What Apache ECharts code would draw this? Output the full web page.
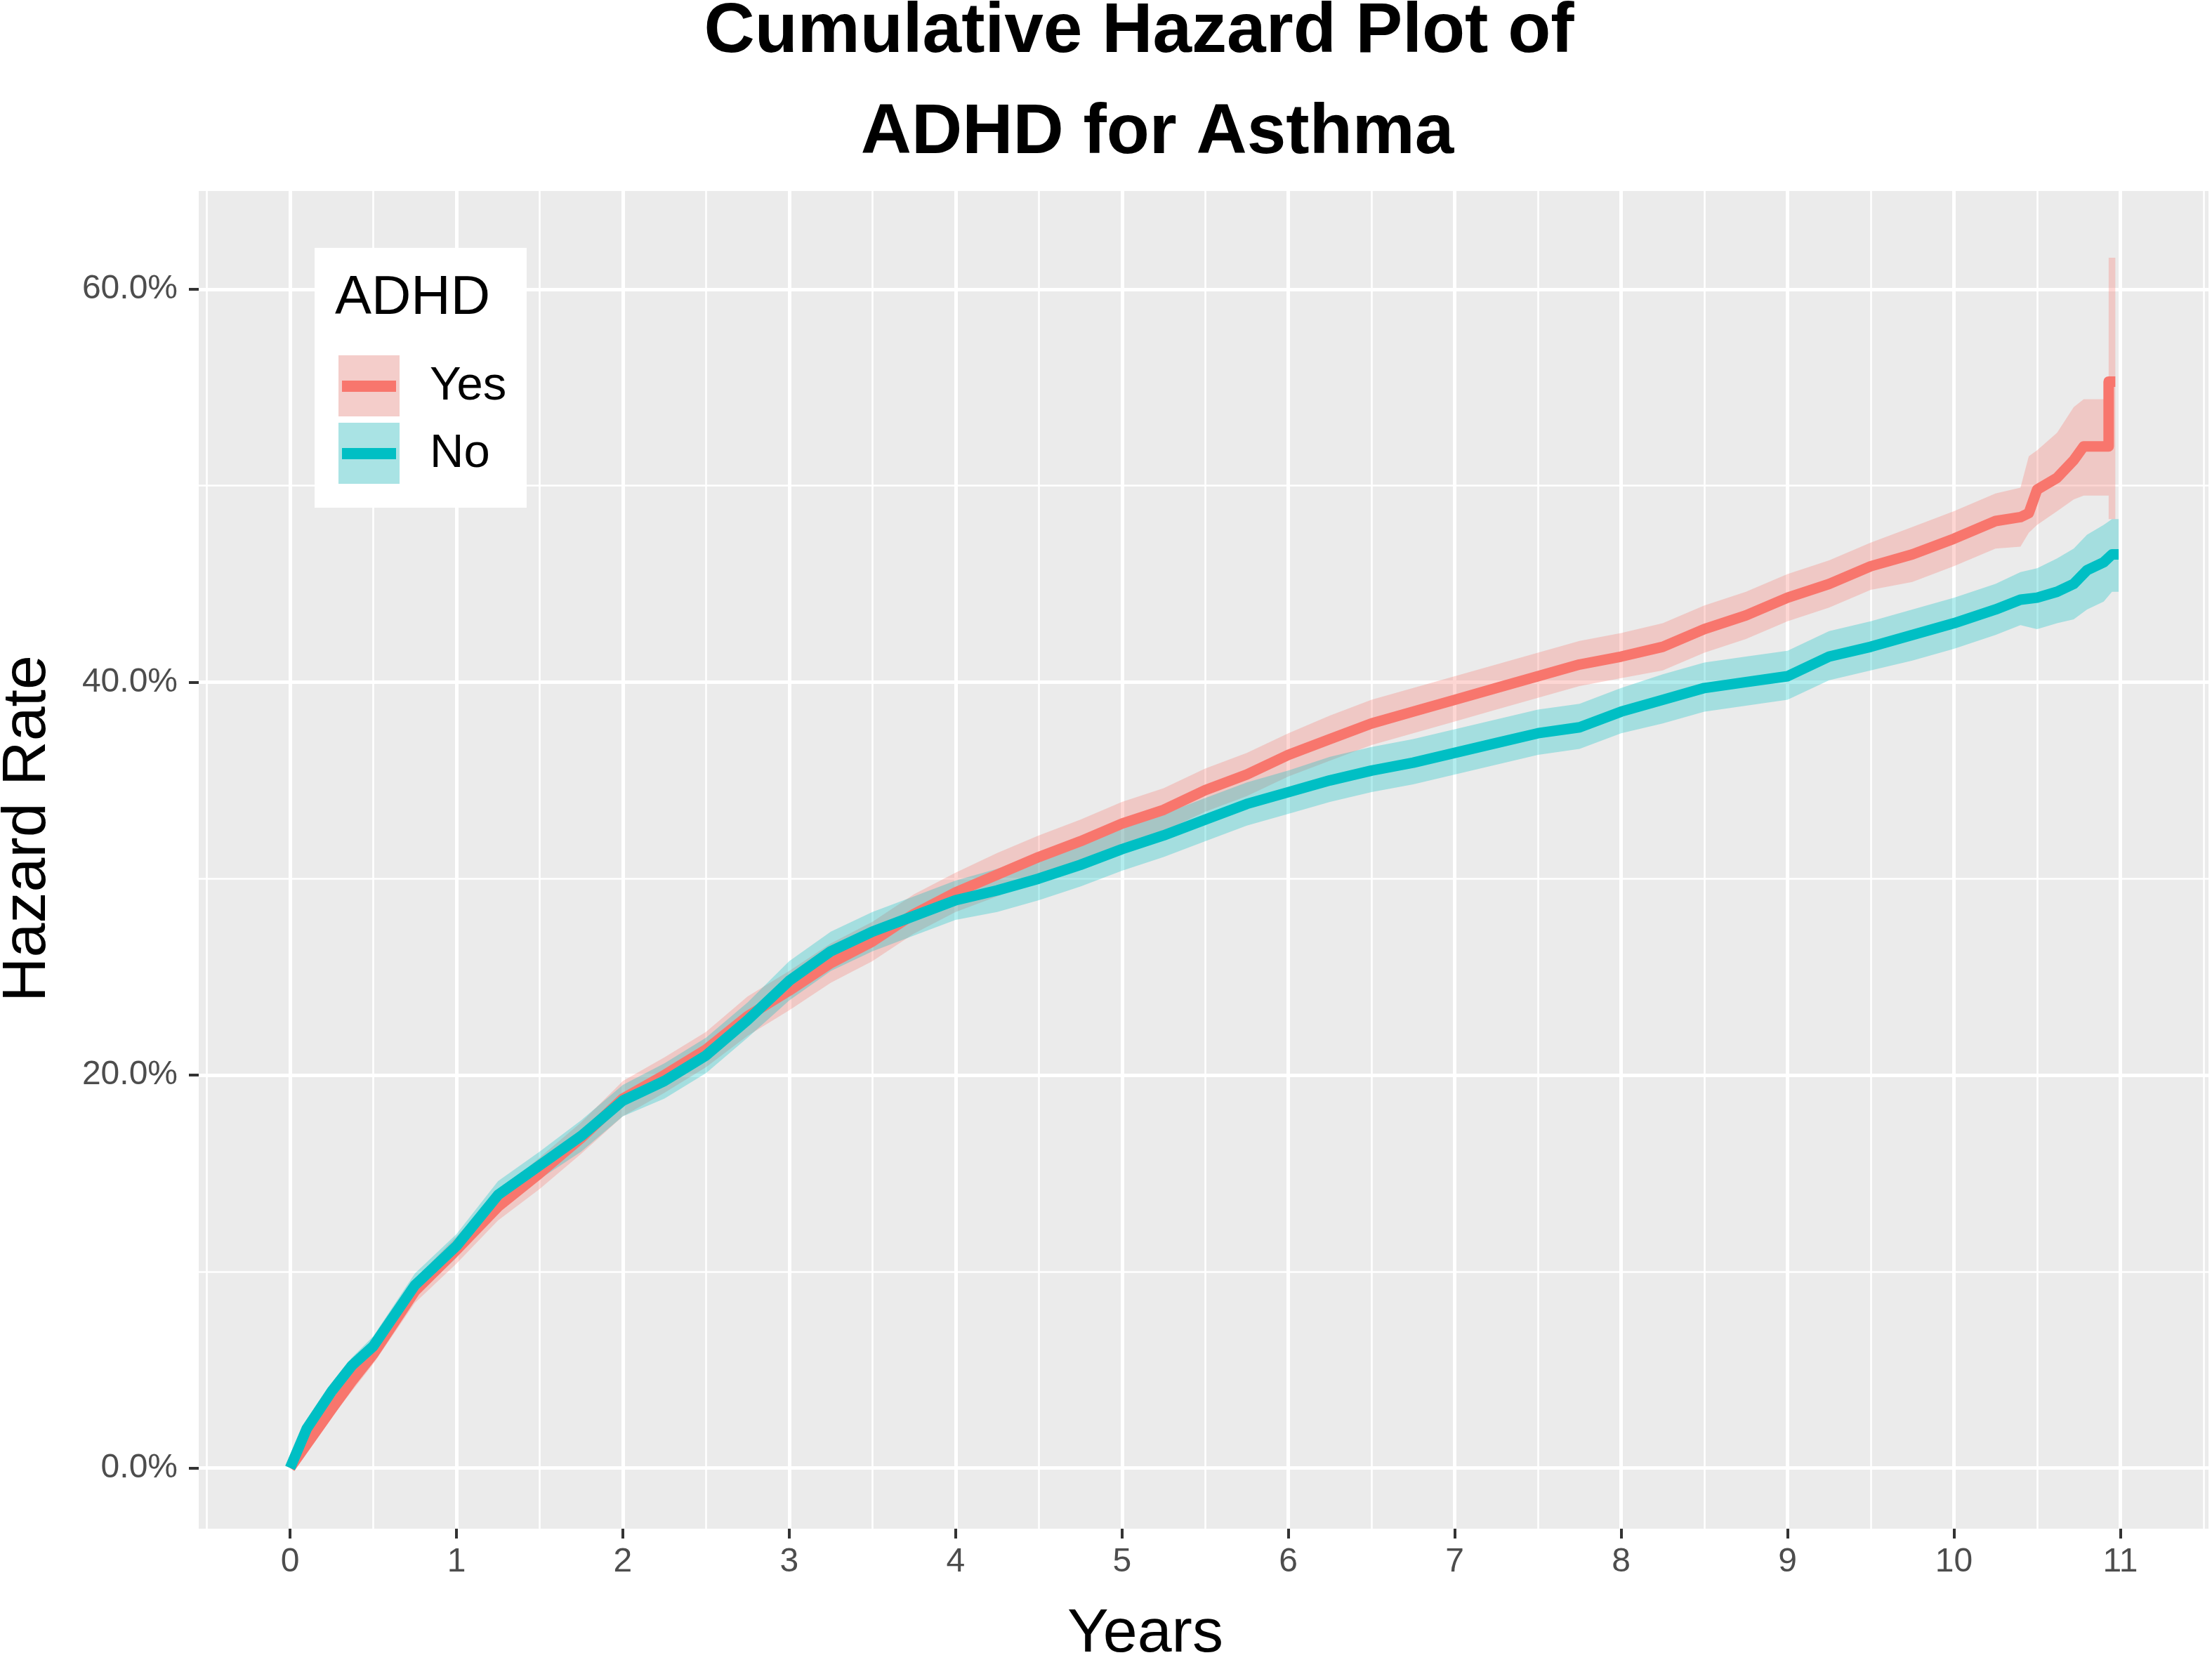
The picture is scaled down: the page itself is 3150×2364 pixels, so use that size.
<!DOCTYPE html>
<html>
<head>
<meta charset="utf-8">
<title>Cumulative Hazard Plot of ADHD for Asthma</title>
<script src="https://cdn.jsdelivr.net/npm/echarts@6.0.0/dist/echarts.min.js"></script>
<style>
  html, body { margin: 0; padding: 0; background: #fff; }
  #chart { width: 3150px; height: 2364px; }
</style>
</head>
<body>
<div id="chart"></div>
<script>
// ADHD = Yes  (years, cumulative hazard %, lower / upper band %)
const yesYears  = [0, 0.1, 0.25, 0.37, 0.5, 0.75, 1.0, 1.25, 1.5, 1.75, 2.0, 2.25, 2.5, 2.75, 3.0, 3.25, 3.5, 3.75, 4.0, 4.25, 4.5, 4.75, 5.0, 5.25, 5.5, 5.75, 6.0, 6.25, 6.5, 6.75, 7.0, 7.25, 7.5, 7.75, 8.0, 8.25, 8.5, 8.75, 9.0, 9.25, 9.5, 9.75, 10.0, 10.25, 10.4, 10.45, 10.5, 10.62, 10.72, 10.78, 10.93, 10.93, 10.97]
const yesHazard = [0, 1.2, 3.0, 4.4, 5.8, 9.0, 11.1, 13.3, 15.0, 16.8, 18.8, 20.0, 21.3, 23.0, 24.3, 25.7, 26.8, 28.2, 29.3, 30.2, 31.1, 31.9, 32.8, 33.5, 34.5, 35.3, 36.3, 37.1, 37.9, 38.5, 39.1, 39.7, 40.3, 40.9, 41.3, 41.8, 42.7, 43.4, 44.3, 45.0, 45.9, 46.5, 47.3, 48.2, 48.4, 48.6, 49.8, 50.4, 51.3, 52.0, 52.0, 55.3, 55.3]
const yesLower  = [0, 0.9, 2.6, 3.9, 5.3, 8.4, 10.4, 12.6, 14.2, 16.0, 17.9, 19.1, 20.4, 22.0, 23.3, 24.7, 25.8, 27.2, 28.3, 29.1, 30.0, 30.8, 31.7, 32.4, 33.4, 34.2, 35.2, 36.0, 36.8, 37.4, 38.0, 38.6, 39.2, 39.8, 40.2, 40.6, 41.5, 42.2, 43.1, 43.8, 44.7, 45.1, 45.9, 46.8, 46.9, 47.6, 48.0, 48.7, 49.3, 49.5, 49.5, 48.3, 48.3]
const yesUpper  = [0, 1.5, 3.4, 4.9, 6.3, 9.6, 11.8, 14.0, 15.8, 17.6, 19.7, 20.9, 22.2, 24.0, 25.3, 26.7, 27.8, 29.2, 30.3, 31.3, 32.2, 33.0, 33.9, 34.6, 35.6, 36.4, 37.4, 38.3, 39.1, 39.7, 40.3, 40.9, 41.5, 42.1, 42.5, 43.0, 43.9, 44.6, 45.5, 46.2, 47.1, 47.9, 48.7, 49.6, 49.9, 51.5, 51.8, 52.7, 54.0, 54.4, 54.4, 61.6, 61.6]

// ADHD = No
const noYears  = [0, 0.1, 0.25, 0.37, 0.5, 0.75, 1.0, 1.25, 1.5, 1.75, 2.0, 2.25, 2.5, 2.75, 3.0, 3.25, 3.5, 3.75, 4.0, 4.25, 4.5, 4.75, 5.0, 5.25, 5.5, 5.75, 6.0, 6.25, 6.5, 6.75, 7.0, 7.25, 7.5, 7.75, 8.0, 8.25, 8.5, 8.75, 9.0, 9.25, 9.5, 9.75, 10.0, 10.25, 10.4, 10.5, 10.62, 10.72, 10.8, 10.9, 10.95, 10.99]
const noHazard = [0, 2.0, 3.9, 5.2, 6.2, 9.3, 11.3, 13.9, 15.4, 16.9, 18.7, 19.7, 21.0, 22.8, 24.8, 26.3, 27.3, 28.1, 28.9, 29.4, 30.0, 30.7, 31.5, 32.2, 33.0, 33.8, 34.4, 35.0, 35.5, 35.9, 36.4, 36.9, 37.4, 37.7, 38.5, 39.1, 39.7, 40.0, 40.3, 41.3, 41.8, 42.4, 43.0, 43.7, 44.2, 44.3, 44.6, 45.0, 45.7, 46.1, 46.5, 46.5]
const noLower  = [0, 1.7, 3.5, 4.8, 5.7, 8.7, 10.7, 13.2, 14.7, 16.1, 17.9, 18.8, 20.1, 21.9, 23.8, 25.3, 26.3, 27.1, 27.9, 28.3, 28.9, 29.6, 30.4, 31.1, 31.9, 32.7, 33.3, 33.9, 34.4, 34.8, 35.3, 35.8, 36.3, 36.6, 37.4, 37.9, 38.5, 38.8, 39.1, 40.1, 40.6, 41.1, 41.7, 42.4, 42.9, 42.7, 43.0, 43.2, 43.7, 44.1, 44.6, 44.6]
const noUpper  = [0, 2.3, 4.3, 5.6, 6.7, 9.9, 11.9, 14.6, 16.1, 17.7, 19.5, 20.6, 21.9, 23.7, 25.8, 27.3, 28.3, 29.1, 29.9, 30.5, 31.1, 31.8, 32.6, 33.3, 34.1, 34.9, 35.5, 36.2, 36.7, 37.1, 37.6, 38.1, 38.6, 38.9, 39.7, 40.4, 41.0, 41.3, 41.6, 42.6, 43.1, 43.7, 44.3, 45.0, 45.6, 45.8, 46.3, 46.8, 47.5, 48.0, 48.3, 48.3]

const xTicks = [0, 1, 2, 3, 4, 5, 6, 7, 8, 9, 10, 11]
const xMinor = [-0.5, 0.5, 1.5, 2.5, 3.5, 4.5, 5.5, 6.5, 7.5, 8.5, 9.5, 10.5, 11.5]
const yTicks = [0, 20, 40, 60]
const yMinor = [10, 30, 50]

const FONT = '"Liberation Sans", Arial, Helvetica, sans-serif'
const RED = '#F8766D'
const CYAN = '#00BFC4'
const RED_BAND = 'rgba(248,118,109,0.3)'
const CYAN_BAND = 'rgba(0,191,196,0.3)'

const X_MIN = -0.549, X_MAX = 11.53
const Y_MIN = -3.09, Y_MAX = 65.0

const chart = echarts.init(document.getElementById('chart'))

function pairs(xs, ys) {
    return xs.map((x, i) => [x, ys[i]])
}

function lineSeries(name, xs, ys, color) {
    return {
        type: 'line',
        name: name,
        data: pairs(xs, ys),
        showSymbol: false,
        silent: true,
        animation: false,
        lineStyle: { color: color, width: 15, join: 'round' }
    }
}

// confidence ribbon: one polygon, upper edge then lower edge backwards
function bandSeries(name, xs, lo, hi, color) {
    const outline = pairs(xs, hi).concat(pairs(xs, lo).reverse())
    return {
        type: 'custom',
        name: name,
        data: [[xs[0], lo[0]]],
        silent: true,
        animation: false,
        renderItem: function (params, api) {
            return {
                type: 'polygon',
                shape: { points: outline.map(p => api.coord(p)) },
                style: { fill: color }
            }
        }
    }
}

function axisPair(type) {
    const isX = type === 'x'
    const position = isX ? 'bottom' : 'left'
    const major = {
        type: 'value',
        position: position,
        min: isX ? X_MIN : Y_MIN,
        max: isX ? X_MAX : Y_MAX,
        axisLine: { show: false, onZero: false },
        axisTick: {
            show: true, length: 14, customValues: isX ? xTicks : yTicks,
            lineStyle: { color: '#333333', width: 4 }
        },
        axisLabel: {
            customValues: isX ? xTicks : yTicks,
            color: '#4D4D4D', fontSize: 48, fontFamily: FONT,
            margin: isX ? 24 : 30,
            formatter: isX ? (v => String(v)) : (v => v.toFixed(1) + '%')
        },
        splitLine: { show: true, lineStyle: { color: '#FFFFFF', width: 5 } }
    }
    const minor = {
        type: 'value',
        position: position,
        min: isX ? X_MIN : Y_MIN,
        max: isX ? X_MAX : Y_MAX,
        axisLine: { show: false, onZero: false },
        axisTick: { show: false, customValues: isX ? xMinor : yMinor },
        axisLabel: { show: false, customValues: isX ? xMinor : yMinor },
        splitLine: { show: true, lineStyle: { color: '#FFFFFF', width: 2.6 } }
    }
    return [minor, major]
}

function text(str, x, y, size, extra) {
    const el = {
        type: 'text', x: x, y: y, z: 100, silent: true,
        style: {
            text: str, fill: '#000000', fontSize: size, fontFamily: FONT,
            textAlign: 'center', textVerticalAlign: 'middle'
        }
    }
    if (extra && extra.style) Object.assign(el.style, extra.style)
    if (extra && extra.rotation) el.rotation = extra.rotation
    return el
}

function rect(x, y, w, h, fill) {
    return { type: 'rect', z: 100, silent: true, shape: { x: x, y: y, width: w, height: h }, style: { fill: fill } }
}

const legendGraphic = [
    rect(448, 353, 302, 370, '#FFFFFF'),
    text('ADHD', 477, 425, 78, { style: { textAlign: 'left' } }),
    rect(482, 506, 87, 87, '#F2F2F2'),
    rect(482, 506, 87, 87, RED_BAND),
    rect(487, 542, 77, 16, RED),
    rect(482, 602, 87, 87, '#F2F2F2'),
    rect(482, 602, 87, 87, CYAN_BAND),
    rect(487, 638, 77, 16, CYAN),
    text('Yes', 612, 551, 67, { style: { textAlign: 'left' } }),
    text('No', 612, 647, 67, { style: { textAlign: 'left' } })
]

const xAxes = axisPair('x')
const yAxes = axisPair('y')

const option = {
    animation: false,
    backgroundColor: '#FFFFFF',
    grid: {
        left: 283, right: 5, top: 272, bottom: 187,
        outerBoundsMode: 'none',
        containLabel: false,
        show: true, backgroundColor: '#EBEBEB', borderWidth: 0
    },
    xAxis: xAxes,
    yAxis: yAxes,
    graphic: [
        text('Cumulative Hazard Plot of', 1622, 46, 100, { style: { fontWeight: 'bold' } }),
        text('ADHD for Asthma', 1648, 190, 100, { style: { fontWeight: 'bold' } }),
        text('Years', 1631, 2328, 88),
        text('Hazard Rate', 40, 1180, 88, { rotation: Math.PI / 2 })
    ].concat(legendGraphic),
    series: [
        Object.assign(lineSeries('Yes', yesYears, yesHazard, RED), { xAxisIndex: 1, yAxisIndex: 1 }),
        Object.assign(lineSeries('No', noYears, noHazard, CYAN), { xAxisIndex: 1, yAxisIndex: 1 }),
        Object.assign(bandSeries('Yes band', yesYears, yesLower, yesUpper, RED_BAND), { xAxisIndex: 1, yAxisIndex: 1 }),
        Object.assign(bandSeries('No band', noYears, noLower, noUpper, CYAN_BAND), { xAxisIndex: 1, yAxisIndex: 1 })
    ]
}

chart.setOption(option)
</script>
</body>
</html>
